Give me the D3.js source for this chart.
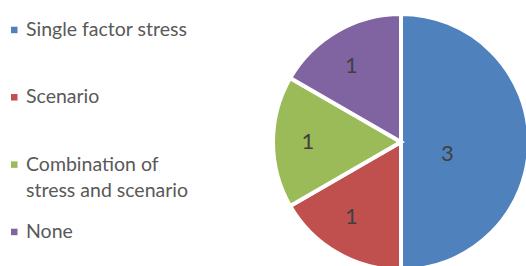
<!DOCTYPE html>
<html lang="en">
<head>
<meta charset="utf-8">
<title>Stress test types</title>
<script src="https://d3js.org/d3.v7.min.js"></script>
<style>
    body { margin: 0; background: #fff; }
    svg { display: block; }
    .legend text { font-family: Lato, "Open Sans", sans-serif; font-size: 19.5px; fill: #595959; }
    .slice-label { font-family: Lato, "Open Sans", sans-serif; font-size: 22px; fill: #404040; }
</style>
</head>
<body>
<div id="chart"></div>
<script>
    // chart data
    const categories = ["Single factor stress", "Scenario", "Combination of\nstress and scenario", "None"];
    const counts = [3, 1, 1, 1];
    const colors = ["#4F81BD", "#C0504D", "#9BBB59", "#8064A2"];

    let width = 526, height = 266;
    let cx = 401, cy = 142, radius = 128;

    let svg = d3.select("#chart").append("svg")
        .attr("width", width)
        .attr("height", height);

    let data = categories.map((c, i) => ({name: c, value: counts[i], color: colors[i]}));

    let pie = d3.pie().sort(null).value(d => d.value);
    let arc = d3.arc().innerRadius(0).outerRadius(radius);

    let g = svg.append("g").attr("transform", "translate(" + cx + "," + cy + ")");

    let slices = g.selectAll(".slice")
        .data(pie(data))
        .enter().append("g")
        .attr("class", "slice");

    slices.append("path")
        .attr("d", arc)
        .style("fill", d => d.data.color)
        .style("stroke", "#fff")
        .style("stroke-width", 4)
        .style("stroke-linejoin", "miter");

    // labels: big slice closer to centre, small ones further out
    slices.append("text")
        .attr("class", "slice-label")
        .attr("transform", function(d) {
            let a = (d.startAngle + d.endAngle) / 2;
            let big = (d.endAngle - d.startAngle) > 2;
            let lr = big ? radius * 0.37 : radius * 0.68;
            let x = Math.sin(a) * lr + (big ? -1 : -6);
            let y = -Math.cos(a) * lr + (big ? 10 : -2);
            return "translate(" + x + "," + y + ")";
        })
        .attr("text-anchor", "middle")
        .attr("dominant-baseline", "central")
        .text(d => d.data.value);

    // legend
    let legend = svg.append("g").attr("class", "legend");
    let rowY = d3.scaleLinear().domain([0, 3]).range([30, 232]);

    let items = legend.selectAll(".item")
        .data(data)
        .enter().append("g")
        .attr("class", "item")
        .attr("transform", (d, i) => "translate(0," + rowY(i) + ")");

    items.append("rect")
        .attr("x", 11)
        .attr("y", -3.3)
        .attr("width", 6.5)
        .attr("height", 6.5)
        .style("fill", d => d.color);

    items.append("text")
        .attr("x", 26)
        .attr("y", 6)
        .each(function(d) {
            let lines = d.name.split("\n");
            let t = d3.select(this);
            lines.forEach((l, k) => {
                t.append("tspan").attr("x", 26).attr("dy", k === 0 ? 0 : 26).text(l);
            });
        });
</script>
</body>
</html>
